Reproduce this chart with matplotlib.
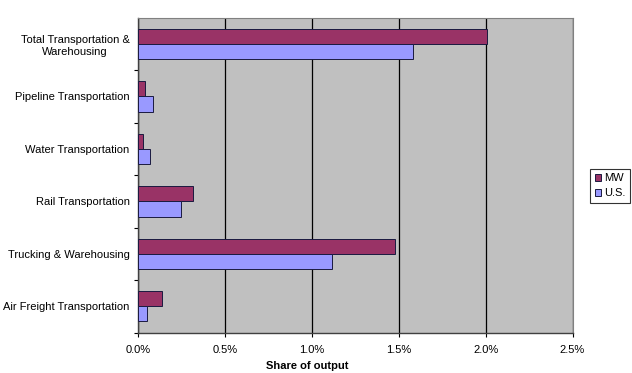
import numpy as np
import matplotlib
matplotlib.use("Agg")
from matplotlib import pyplot as plt
from matplotlib.ticker import FuncFormatter, MultipleLocator

plt.rcParams['font.family'] = ['Liberation Sans', 'DejaVu Sans']

# categories, top to bottom
categories = ['Total Transportation &\nWarehousing', 'Pipeline Transportation',
              'Water Transportation', 'Rail Transportation',
              'Trucking & Warehousing', 'Air Freight Transportation']
mw = [2.01, 0.04, 0.03, 0.315, 1.48, 0.136]     # share of output, %
us = [1.584, 0.088, 0.067, 0.248, 1.119, 0.054]
series_names = ['MW', 'U.S.']

fig = plt.figure(figsize=(6.32, 3.73), dpi=100)
ax = fig.add_axes([138/632, 40.5/373, 434.5/632, 314.7/373])
ax.set_facecolor('#c0c0c0')

n = len(categories)
ypos = np.arange(n)[::-1]   # first category on top
h = 0.29
ax.barh(ypos + h/2, mw, height=h, color='#993366', edgecolor='#1a1a40',
        linewidth=0.7, label=series_names[0], zorder=3)
ax.barh(ypos - h/2, us, height=h, color='#9999ff', edgecolor='#1a1a40',
        linewidth=0.7, label=series_names[1], zorder=3)

ax.set_xlim(0, 2.5)
ax.set_ylim(-0.5, n - 0.5)
ax.xaxis.set_major_locator(MultipleLocator(0.5))
ax.xaxis.set_major_formatter(FuncFormatter(lambda v, p: '%.1f%%' % v))
ax.grid(axis='x', color='black', linewidth=0.9, zorder=1)

ax.set_yticks(ypos)
ax.set_yticklabels(categories, fontsize=8, multialignment='center')
ax.set_yticks(np.arange(n) - 0.5, minor=True)
ax.tick_params(axis='y', which='major', length=0, pad=6)
ax.tick_params(axis='y', which='minor', length=3, width=0.8, direction='out')
ax.tick_params(axis='x', labelsize=8, length=3, width=0.8, pad=6)

for side in ['top', 'right']:
    ax.spines[side].set_color('#808080')
    ax.spines[side].set_linewidth(0.8)
for side in ['left', 'bottom']:
    ax.spines[side].set_color('#404040')
    ax.spines[side].set_linewidth(1.0)

fig.text(307/632, 7/373, 'Share of output', fontsize=8, fontweight='bold',
         ha='center', va='center')

leg = fig.legend(loc='upper right', bbox_to_anchor=(630/632, 1 - 169/373),
                 fontsize=8, frameon=True, fancybox=False, edgecolor='black',
                 handlelength=0.6, handleheight=0.6, handletextpad=0.25,
                 borderpad=0.4, labelspacing=0.45, borderaxespad=0)
leg.get_frame().set_linewidth(0.8)

plt.savefig('out.png', dpi=100)
